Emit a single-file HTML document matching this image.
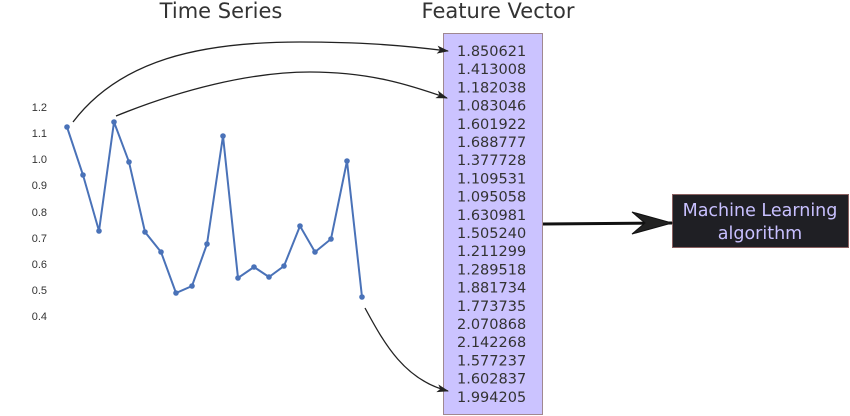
<!DOCTYPE html>
<html><head><meta charset="utf-8"><style>
html,body{margin:0;padding:0;background:#fff;width:850px;height:416px;overflow:hidden}
svg{display:block}
</style></head><body>
<svg width="850" height="416" viewBox="0 0 850 416" xmlns="http://www.w3.org/2000/svg">
<defs>
<marker id="a" markerWidth="12" markerHeight="8" refX="11" refY="4" orient="auto" markerUnits="userSpaceOnUse">
<path d="M0,0 L12,4 L0,8 L3,4 Z" fill="#222"/></marker>
</defs>
<g font-family="DejaVu Sans, sans-serif" fill="#333" font-size="21">
<text x="221" y="18" text-anchor="middle">Time Series</text>
<text x="498" y="18" text-anchor="middle">Feature Vector</text>
</g>
<rect x="443.5" y="33.5" width="99" height="381" fill="#cbc3ff" stroke="#a08890" stroke-width="1"/>
<g font-family="DejaVu Sans, sans-serif" font-size="14.5" fill="#333">
<text x="457" y="56">1.850621</text>
<text x="457" y="74.2">1.413008</text>
<text x="457" y="92.4">1.182038</text>
<text x="457" y="110.6">1.083046</text>
<text x="457" y="128.8">1.601922</text>
<text x="457" y="147">1.688777</text>
<text x="457" y="165.2">1.377728</text>
<text x="457" y="183.4">1.109531</text>
<text x="457" y="201.6">1.095058</text>
<text x="457" y="219.8">1.630981</text>
<text x="457" y="238">1.505240</text>
<text x="457" y="256.2">1.211299</text>
<text x="457" y="274.4">1.289518</text>
<text x="457" y="292.6">1.881734</text>
<text x="457" y="310.8">1.773735</text>
<text x="457" y="329">2.070868</text>
<text x="457" y="347.2">2.142268</text>
<text x="457" y="365.4">1.577237</text>
<text x="457" y="383.6">1.602837</text>
<text x="457" y="401.8">1.994205</text>
</g>
<rect x="672.5" y="194.5" width="176" height="53" fill="#1f1f24" stroke="#8a6060"/>
<g font-family="DejaVu Sans, sans-serif" font-size="17.5" fill="#c8c0ff" text-anchor="middle">
<text x="760" y="216">Machine Learning</text>
<text x="760" y="239">algorithm</text>
</g>
<g font-family="Liberation Sans, sans-serif" font-size="11" fill="#333" text-anchor="end">
<text x="47" y="111">1.2</text><text x="47" y="137">1.1</text><text x="47" y="163">1.0</text>
<text x="47" y="189">0.9</text><text x="47" y="216">0.8</text><text x="47" y="242">0.7</text>
<text x="47" y="268">0.6</text><text x="47" y="294">0.5</text><text x="47" y="320">0.4</text>
</g>
<polyline fill="none" stroke="#4a72b8" stroke-width="2" points="67,127 83,175 99,231 114,122 129,162 145,232 161,252 176,293 192,286 207,244 223,136 238,278 254,267 269,277 284,266 300,226 315,252 331,239 347,161 362,297"/>
<g fill="#4a72b8">
<circle cx="67" cy="127" r="2.8"/><circle cx="83" cy="175" r="2.8"/><circle cx="99" cy="231" r="2.8"/><circle cx="114" cy="122" r="2.8"/><circle cx="129" cy="162" r="2.8"/><circle cx="145" cy="232" r="2.8"/><circle cx="161" cy="252" r="2.8"/><circle cx="176" cy="293" r="2.8"/><circle cx="192" cy="286" r="2.8"/><circle cx="207" cy="244" r="2.8"/><circle cx="223" cy="136" r="2.8"/><circle cx="238" cy="278" r="2.8"/><circle cx="254" cy="267" r="2.8"/><circle cx="269" cy="277" r="2.8"/><circle cx="284" cy="266" r="2.8"/><circle cx="300" cy="226" r="2.8"/><circle cx="315" cy="252" r="2.8"/><circle cx="331" cy="239" r="2.8"/><circle cx="347" cy="161" r="2.8"/><circle cx="362" cy="297" r="2.8"/>
</g>
<g fill="none" stroke="#222" stroke-width="1.3">
<path d="M73,122 C120,60 200,42 300,42 C360,42 400,45 448,51" marker-end="url(#a)"/>
<path d="M116,116 C180,90 250,72 310,72 C370,72 410,85 447,98" marker-end="url(#a)"/>
<path d="M365,308 C385,345 405,380 448,391" marker-end="url(#a)"/>
</g>
<path d="M543,224 L672,223" stroke="#111" stroke-width="3" fill="none"/>
<path d="M632,212 L672,223 L632,234 L645,223 Z" fill="#222" stroke="#111" stroke-width="1"/>
</svg>
</body></html>
